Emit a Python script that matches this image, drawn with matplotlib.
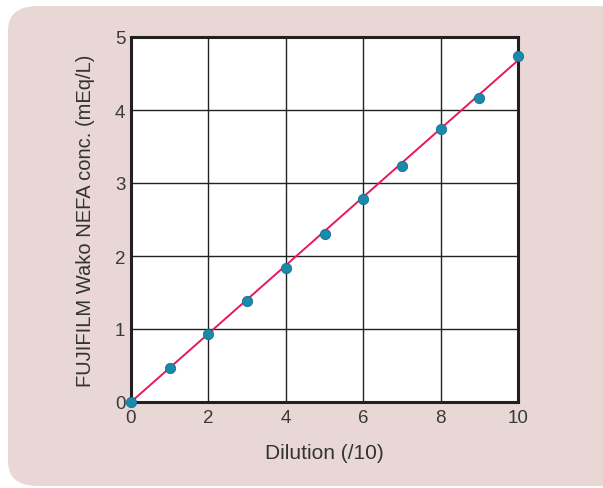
import matplotlib.pyplot as plt
from matplotlib.patches import FancyBboxPatch

dilution = [0, 1, 2, 3, 4, 5, 6, 7, 8, 9, 10]
nefa = [0.0, 0.46, 0.93, 1.38, 1.84, 2.30, 2.78, 3.23, 3.74, 4.16, 4.74]
fit_x = [0, 10]
fit_y = [0.0, 4.68]

plt.rcParams['font.family'] = ['Liberation Sans', 'DejaVu Sans']

fig = plt.figure(figsize=(6.03, 4.89), dpi=100)
fig.patch.set_facecolor('white')

# pink rounded panel behind the chart
bg = FancyBboxPatch((8 / 603, 2 / 489), 620 / 603, 480 / 489,
                    boxstyle='round,pad=0,rounding_size=0.05',
                    transform=fig.transFigure, facecolor='#e8d7d5',
                    edgecolor='none', zorder=-10)
fig.patches.append(bg)

ax = fig.add_axes([131 / 603, 86 / 489, 387 / 603, 365 / 489])
ax.set_zorder(1)
ax.set_facecolor('white')
ax.plot(fit_x, fit_y, color='#e8185a', lw=1.4, zorder=3)
ax.scatter(dilution, nefa, s=55, color='#1a8aab', edgecolors='#17708c',
           linewidths=0.6, zorder=4, clip_on=False)

ax.set_xlim(0, 10)
ax.set_ylim(0, 5)
ax.set_xticks([0, 2, 4, 6, 8, 10])
ax.set_yticks([0, 1, 2, 3, 4, 5])
ax.grid(True, color='#222222', lw=1.0)
ax.set_axisbelow(True)
for s in ax.spines.values():
    s.set_linewidth(2.2)
    s.set_color('#231f20')
ax.tick_params(length=0, labelsize=13.5, colors='#3a3a3a')
ax.tick_params(axis='x', pad=5)
ax.tick_params(axis='y', pad=4)

ax.set_xlabel('Dilution (/10)', fontsize=15, color='#333333', labelpad=12)
ax.set_ylabel('FUJIFILM Wako NEFA conc. (mEq/L)', fontsize=14.5,
              color='#333333', labelpad=14)

fig.savefig('out.png', dpi=100)
